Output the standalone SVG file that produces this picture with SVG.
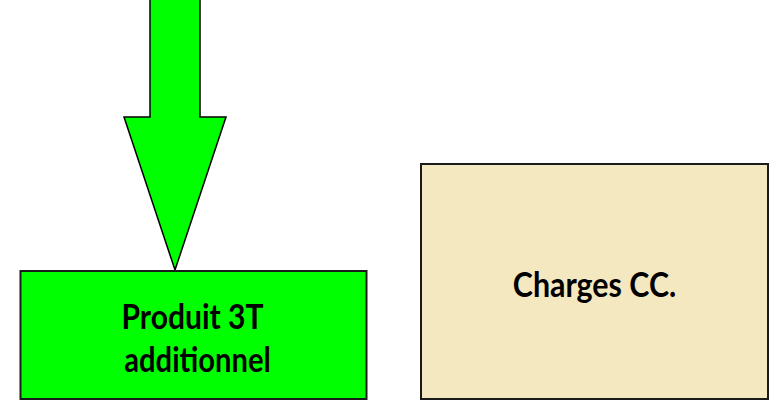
<svg xmlns="http://www.w3.org/2000/svg" width="775" height="400" viewBox="0 0 775 400">
<style>
.box{stroke:#1a1a1a;stroke-width:2}
.lbl{font-family:Lato,"Liberation Sans",sans-serif;font-weight:bold;font-size:31px;fill:#000;text-anchor:middle}
</style>
<rect width="775" height="400" fill="#fff"/>
<g id="connectors">
<path d="M150,-2 L200,-2 L200,117 L226,117 L175,270 L124,117 L150,117 Z" fill="#00ff00" stroke="#000" stroke-width="1.5" stroke-linejoin="miter"/>
</g>
<g id="node-produit">
<rect class="box" x="20.5" y="271" width="346" height="128" fill="#00ff00"/>
<text class="lbl" transform="translate(192.5,328.5) scale(0.97,1.12)">Produit 3T</text>
<text class="lbl" transform="translate(197.5,372) scale(0.94,1.12)">additionnel</text>
</g>
<g id="node-charges">
<rect class="box" x="421" y="164" width="347" height="235" fill="#f3e8c0"/>
<text class="lbl" transform="translate(594.5,297) scale(0.98,1.12)">Charges CC.</text>
</g>
</svg>
